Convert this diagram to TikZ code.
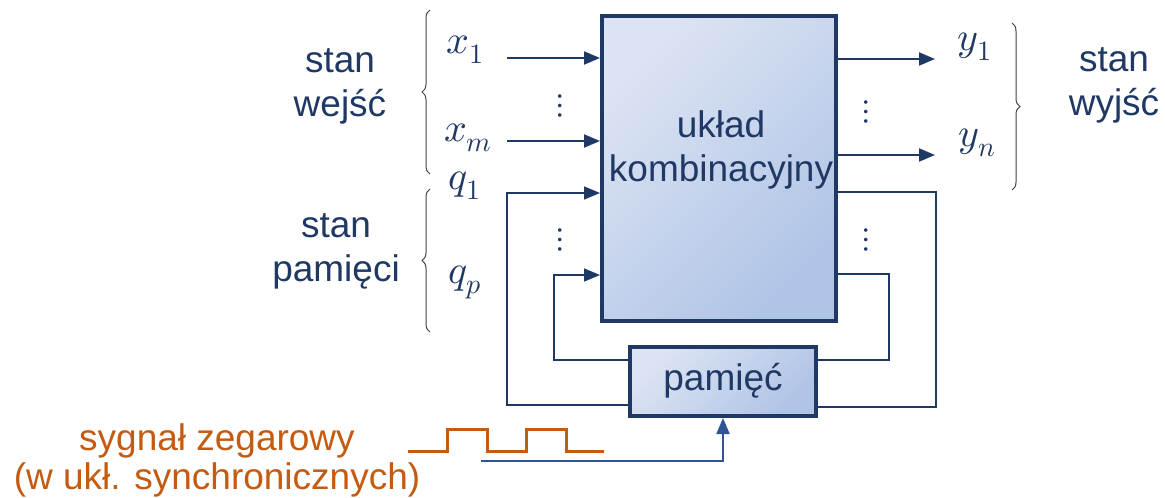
\documentclass[tikz,border=0pt]{standalone}
\usepackage{fontspec}
\usepackage{unicode-math}
\setmainfont{Liberation Sans}
\setmathfont{Latin Modern Math}
\usetikzlibrary{arrows.meta,decorations.pathreplacing}
\definecolor{navy}{HTML}{203864}
\definecolor{clkblue}{HTML}{2F5597}
\definecolor{orng}{HTML}{C55A11}
\definecolor{fillA}{HTML}{DCE4F3}
\definecolor{fillB}{HTML}{B0C4E6}
\tikzset{
  blk/.style={draw=navy, line width=4pt, top color=fillA, bottom color=fillB, shading angle=45, inner sep=0pt},
  txt/.style={text=navy, font=\fontsize{37}{44}\selectfont, align=center, inner sep=0pt},
  lbl/.style={text=navy, font=\fontsize{40}{48}\selectfont, inner sep=0pt},
  dts/.style={text=navy, font=\fontsize{34}{40}\selectfont\boldmath, inner sep=0pt},
  arr/.style={draw=navy, line width=2pt, -{Triangle[length=16pt,width=13pt]}},
  fb/.style={draw=navy, line width=1.6pt},
  fbarr/.style={draw=navy, line width=1.6pt, -{Triangle[length=16pt,width=13pt]}},
  clk/.style={draw=clkblue, line width=2pt, -{Triangle[length=16pt,width=13pt]}},
  wave/.style={draw=orng, line width=3pt},
  brc/.style={draw=black!75, line width=1pt, decorate, decoration={brace, amplitude=8pt}},
  otxt/.style={text=orng, font=\fontsize{37}{39}\selectfont, align=center, inner sep=0pt}
}
\begin{document}
\begin{tikzpicture}[x=1pt,y=-1pt]
\useasboundingbox (0,0) rectangle (1165,498);
% blocks
\node[blk, minimum width=234pt, minimum height=305pt] (uk) at (719,168.5) {};
\node[txt] (ukt) at (721,150) {układ\\kombinacyjny};
\node[blk, minimum width=186pt, minimum height=69pt] (pm) at (723,381.5) {};
\node[txt] (pmt) at (723,381) {pamięć};
% input labels
\node[lbl] (lx1) at (465,50) {$x_1$};
\node[lbl] (lxm) at (468,138) {$x_m$};
\node[lbl] (lq1) at (465,186) {$q_1$};
\node[lbl] (lqp) at (465,282) {$q_p$};
\node[lbl] (ly1) at (975,47) {$y_1$};
\node[lbl] (lyn) at (977,143) {$y_n$};
% dots
\node[dts] (d1) at (560,106) {$\vdots$};
\node[dts] (d2) at (560,240) {$\vdots$};
\node[dts] (d3) at (866,112) {$\vdots$};
\node[dts] (d4) at (866,240) {$\vdots$};
% input arrows
\coordinate (x1) at (507,58);
\coordinate (xm) at (507,141);
\draw[arr] (x1) -- (x1 -| uk.west);
\draw[arr] (xm) -- (xm -| uk.west);
% output arrows
\coordinate (y1) at (935,59);
\coordinate (yn) at (935,155);
\draw[arr] (y1 -| uk.east) -- (y1);
\draw[arr] (yn -| uk.east) -- (yn);
% feedback loops
\coordinate (qa) at (507,405);
\coordinate (qb) at (507,193);
\coordinate (pa) at (554,360);
\coordinate (pb) at (554,275);
\draw[fbarr] (qa -| pm.west) -- (qa) -- (qb) -- (qb -| uk.west);
\draw[fbarr] (pa -| pm.west) -- (pa) -- (pb) -- (pb -| uk.west);
\coordinate (ra) at (936,192);
\coordinate (rb) at (936,407);
\coordinate (sa) at (889,274);
\coordinate (sb) at (889,360);
\draw[fb] (ra -| uk.east) -- (ra) -- (rb) -- (rb -| pm.east);
\draw[fb] (sa -| uk.east) -- (sa) -- (sb) -- (sb -| pm.east);
% braces
\coordinate (b1a) at (430,174);
\coordinate (b1b) at (430,10);
\coordinate (b2a) at (430,332);
\coordinate (b2b) at (430,189);
\coordinate (b3a) at (1012,23);
\coordinate (b3b) at (1012,190);
\draw[brc] (b1a) -- (b1b);
\draw[brc] (b2a) -- (b2b);
\draw[brc] (b3a) -- (b3b);
% side texts
\node[txt] (sw) at (340,86) {stan\\wejść};
\node[txt] (sp) at (336,251) {stan\\pamięci};
\node[txt] (sy) at (1114,85) {stan\\wyjść};
% clock
\draw[wave] (408,451) -- (447,451) -- (447,429) -- (487,429) -- (487,451) -- (526,451) -- (526,429) -- (566,429) -- (566,451) -- (604,451);
\coordinate (ca) at (481,461);
\coordinate (cb) at (723,461);
\draw[clk] (ca) -- (cb) -- (pm.south);
\node[otxt] (ot) at (217,460) {sygnał zegarowy\\(w ukł. synchronicznych)};
\end{tikzpicture}
\end{document}
